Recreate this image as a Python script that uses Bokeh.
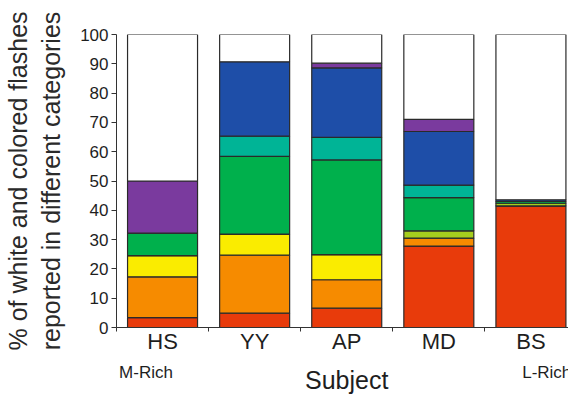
from bokeh.plotting import figure
from bokeh.layouts import column
from bokeh.models import ColumnDataSource, FixedTicker, Range1d
from bokeh.core.properties import value
from bokeh.embed import file_html
from bokeh.resources import INLINE

# Subjects and the share (%) of flashes reported in each colour category
subjects = ["HS", "YY", "AP", "MD", "BS"]
red = [3.4, 4.9, 6.6, 27.8, 41.5]
orange = [13.9, 19.8, 9.7, 2.7, 0.0]
yellow = [7.2, 7.2, 8.6, 0.0, 0.0]
lime = [0.0, 0.0, 0.0, 2.5, 0.9]
green = [7.7, 26.5, 32.3, 11.3, 0.6]
teal = [0.0, 6.9, 7.7, 4.3, 0.0]
blue = [0.0, 25.4, 23.7, 18.3, 0.6]
purple = [17.8, 0.0, 1.6, 4.1, 0.0]
white = [50.0, 9.3, 9.8, 29.0, 56.4]

y_ticks = [0, 10, 20, 30, 40, 50, 60, 70, 80, 90, 100]

series = ["red", "orange", "yellow", "lime", "green", "teal", "blue", "purple", "white"]
fills = ["#E83B0B", "#F68B00", "#FAEC00", "#A6CE1E", "#00B04C",
         "#00B496", "#1E4EA8", "#7A3A9E", "#FFFFFF"]

xs = list(range(len(subjects)))
source = ColumnDataSource(dict(
    x=xs, red=red, orange=orange, yellow=yellow, lime=lime, green=green,
    teal=teal, blue=blue, purple=purple, white=white,
))

FONT = "Liberation Sans"
INK = "#1e1e1e"

x_range = Range1d(-0.5, 4.408)

p = figure(
    width=568, height=362, title=None,
    x_range=x_range, y_range=Range1d(0, 100),
    output_backend="svg", toolbar_location=None,
    min_border_left=114, min_border_right=0,
    min_border_top=34, min_border_bottom=35,
)
p.outline_line_color = None
p.xgrid.grid_line_color = None
p.ygrid.grid_line_color = None
p.background_fill_color = "white"
p.border_fill_color = "white"

p.vbar_stack(series, x="x", width=0.76, source=source,
             fill_color=fills, line_color="#2a2a2a", line_width=1.2)

# y axis
p.yaxis.ticker = FixedTicker(ticks=y_ticks)
p.yaxis.major_tick_out = 5
p.yaxis.major_tick_in = 0
p.yaxis.minor_tick_out = 0
p.yaxis.minor_tick_in = 0
p.yaxis.major_label_standoff = 3
p.yaxis.major_label_text_font = FONT
p.yaxis.major_label_text_font_size = "17px"
p.yaxis.major_label_text_color = INK
p.yaxis.axis_line_color = "#333333"
p.yaxis.major_tick_line_color = "#333333"
p.yaxis.axis_label = "% of white and colored flashes\nreported in different categories"
p.yaxis.axis_label_text_font = FONT
p.yaxis.axis_label_text_font_size = "25px"
p.yaxis.axis_label_text_font_style = "normal"
p.yaxis.axis_label_text_color = "#2a2a2a"
p.yaxis.axis_label_standoff = 12

# x axis: subject names under the bars, ticks on the boundaries between them
p.xaxis.ticker = FixedTicker(ticks=xs, minor_ticks=[-0.5, 0.5, 1.5, 2.5, 3.5, 4.5])
p.xaxis.major_label_overrides = {i: s for i, s in zip(xs, subjects)}
p.xaxis.major_tick_out = 0
p.xaxis.major_tick_in = 0
p.xaxis.minor_tick_out = 4
p.xaxis.minor_tick_in = 0
p.xaxis.major_label_standoff = -3
p.xaxis.major_label_text_font = FONT
p.xaxis.major_label_text_font_size = "22px"
p.xaxis.major_label_text_color = INK
p.xaxis.axis_line_color = "#333333"
p.xaxis.minor_tick_line_color = "#333333"

# strip underneath for the axis title and the two group notes;
# its y range runs in pixels downward from the top of the strip
notes = figure(
    width=568, height=32, title=None,
    x_range=x_range, y_range=Range1d(32, 0),
    output_backend="svg", toolbar_location=None,
    x_axis_location=None, y_axis_location=None,
    min_border_left=114, min_border_right=0,
    min_border_top=0, min_border_bottom=0,
)
notes.outline_line_color = None
notes.xgrid.grid_line_color = None
notes.ygrid.grid_line_color = None

notes.text(x=[2.0], y=[17], text=["Subject"], text_align="center",
           text_baseline="alphabetic", text_font=value(FONT),
           text_font_size="25px", text_color=INK)
notes.text(x=[-0.18], y=[10], text=["M-Rich"], text_align="center",
           text_baseline="alphabetic", text_font=value(FONT),
           text_font_size="17px", text_color=INK)
notes.text(x=[3.905], y=[10], text=["L-Rich"], text_align="left",
           text_baseline="alphabetic", text_font=value(FONT),
           text_font_size="17px", text_color=INK)

layout = column(p, notes, spacing=0)
open("out.html", "w").write(file_html(layout, INLINE))
